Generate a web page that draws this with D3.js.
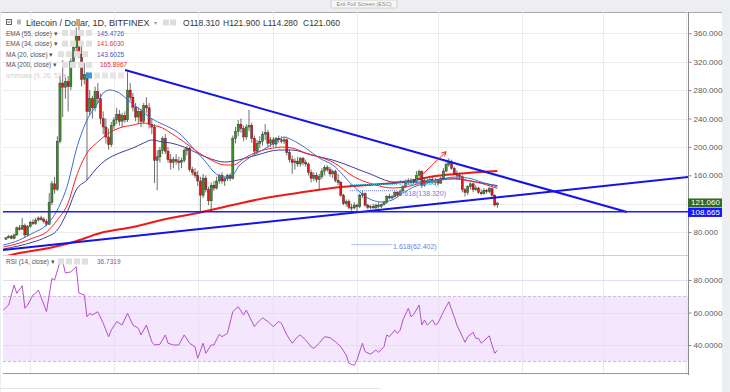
<!DOCTYPE html>
<html><head><meta charset="utf-8">
<script src="https://cdn.jsdelivr.net/npm/d3@7"></script>
<style>
html,body{margin:0;padding:0;background:#eceef2;}
svg{display:block;font-family:"Liberation Sans",Arial,sans-serif;}
</style></head><body>
<svg id="c" width="730" height="392"></svg>
<script>
// ---------- DATA ----------
const startDate = "2017-11-22";           // first daily candle
const open = [
 70,72,74,71,76,86,84,89,76,
 88,94,92,97,100,98,95,91,122,148,140,208,290,284,292,285,320,340,356,330,295,302,250,268,255,278,268,240,228,214,203,
 230,238,246,236,244,238,280,270,256,242,250,236,258,255,232,228,181,186,195,212,194,182,178,182,180,178,181,195,198,168,164,
 160,152,132,156,140,124,146,142,152,160,152,155,160,156,212,222,232,226,214,228,230,212,194,205,208,218,220,205,
 210,204,212,210,208,210,192,182,178,180,176,184,178,176,164,156,160,154,158,166,171,168,162,165,153,150,132,120,123,115,114,
 118,116,132,134,118,115,116,114,118,116,119,122,130,128,130,136,132,138,144,152,150,153,150,160,165,146,153,150,154,150,
 152,149,155,166,175,179,170,163,160,158,140,136,144,148,140,142,136,134,139,137,141,132,118.31];
const high = [
 73,76,76,78,88,90,100,92,90,
 96,98,100,102,103,101,98,135,152,158,215,300,322,298,300,325,345,368,370,345,318,305,280,272,285,290,275,250,240,226,235,
 242,255,252,248,250,305,290,276,262,256,254,262,270,262,240,232,195,200,215,218,200,190,186,190,186,185,198,202,200,172,170,
 166,158,162,160,144,150,152,158,162,164,158,162,163,216,228,238,240,230,232,252,234,216,210,215,222,232,224,214,
 214,214,216,215,214,212,196,188,184,186,186,186,182,178,168,164,164,162,170,174,174,172,168,168,162,152,134,126,126,120,122,
 120,134,138,136,120,118,120,120,122,120,124,132,134,132,138,138,140,146,154,156,156,155,166,168,167,156,156,158,158,156,
 154,158,170,178,184,182,172,167,164,160,142,146,150,150,146,144,140,142,141,144,143,133,121.9];
const low = [
 69,71,70,70,75,82,83,72,74,
 86,90,90,95,96,92,88,90,118,134,138,205,242,268,250,280,312,330,325,285,288,153,245,240,250,262,232,218,205,196,200,
 225,232,230,228,234,235,265,250,236,232,228,232,248,226,218,149,139,178,190,190,178,168,170,175,167,170,178,188,165,160,156,
 145,109,128,136,118,109,138,140,148,148,145,152,152,154,205,215,220,208,210,222,206,188,190,198,202,210,200,200,
 200,200,206,205,204,188,178,162,168,172,172,174,172,160,150,152,150,139,155,160,165,158,156,150,146,130,118,116,112,108,112,
 108,114,128,116,112,112,113,112,113,114,117,120,126,126,129,130,131,136,142,146,146,148,148,156,142,144,148,148,148,146,
 146,148,154,164,172,168,160,156,154,136,130,132,140,136,138,134,132,133,134,135,130,116,114.28];
const close = [
 72,74,71,76,86,84,89,76,88,
 94,92,97,100,98,95,91,122,148,140,208,290,284,292,285,320,340,356,330,295,302,250,268,255,278,268,240,228,214,203,230,
 238,246,236,244,238,280,270,256,242,250,236,258,255,232,228,181,186,195,212,194,182,178,182,180,178,181,195,198,168,164,160,
 152,132,156,140,124,146,142,152,160,152,155,160,156,212,222,232,226,214,228,230,212,194,205,208,218,220,205,210,
 204,212,210,208,210,192,182,178,180,176,184,178,176,164,156,160,154,158,166,171,168,162,165,153,150,132,120,123,115,114,118,
 116,132,134,118,115,116,114,118,116,119,122,130,128,130,136,132,138,144,152,150,153,150,160,165,146,153,150,154,150,152,
 149,155,166,175,179,170,163,160,158,140,136,144,148,140,142,136,134,139,137,141,132,118.31,121.06];

// indicator lines: [days from 2018-01-01, value]
const ma20 = [[-41,61.8],[-35,68.9],[-30,78.7],[-25,90],[-21,111.1],[-17,149.2],[-14,195.6],[-10,237.9],[-6,261.8],[-4,275.9],[-1.5,280.1],[2,275.9],[6,263.2],[10,252],[13,242.1],[17,233.7],[21,226.6],[24,219.6],[29,199.8],[34,178.7],[37,164.6],[41,157.6],[44,160.4],[46,171.7],[50,184.4],[53,191.4],[57,199.8],[61,209.7],[63,213.9],[66,209.7],[71,198.4],[76,184.4],[81,174.5],[89,143.5],[94,128],[99,122.4],[103,125.2],[107,135.1],[111,143.5],[116,149.2],[121,153.4],[126,157.6],[131,156.2],[136,150.5],[142,143.6]];
const ema34 = [[-41,59],[-35,64.6],[-30,71.7],[-25,80.1],[-21,97],[-17,121],[-14,157.6],[-10,191.4],[-6,206.9],[-3,216.8],[2,226.6],[7,230.8],[11,233.7],[14,230.8],[18,226.6],[21,219.6],[26,206.9],[31,192.8],[36,181.5],[41,174.5],[44,174.5],[49,185.8],[53,192.8],[59,198.4],[62,199.8],[66,198.4],[71,191.4],[76,185.8],[81,178.7],[89,157.6],[97,146.3],[103,142.1],[108,143.5],[114,149.2],[121,153.4],[126,154.8],[134,150.5],[142,141.6]];
const ema55 = [[-41,56.2],[-30,66],[-25,73.1],[-21,82.9],[-17,111.1],[-14,139.3],[-10,153.4],[-6,171.7],[-3,181.5],[2,191.4],[7,198.4],[11,205.5],[14,209.7],[18,206.9],[21,205.5],[26,199.8],[34,185.8],[41,178.7],[46,181.5],[53,188.6],[61,195.6],[66,195.6],[73,188.6],[81,181.5],[94,163.2],[104,150.5],[114,150.5],[124,156.2],[134,150.5],[142,145.5]];
const ma200 = [[-41,45],[-35,50.5],[-24,57.6],[-15,66],[-5,78.7],[7,87.2],[21,99.9],[31,106.9],[44,118.2],[56,128],[68,135.1],[84,143.5],[94,146.3],[107,150.5],[119,159],[131,163.2],[142,165.9]];
const rsi = [[-41,61.5],[-39,64.6],[-37,76.9],[-36,71.8],[-34,76.5],[-33,62.6],[-32,64.6],[-30,70.8],[-29,71.8],[-28,73.8],[-25,60.5],[-23,81],[-22,80],[-20,91.3],[-19,91.3],[-18,84.3],[-16,85],[-14,88.2],[-13,72],[-11,70.8],[-10,57.4],[-9,59.5],[-8,58.5],[-6,60.5],[-4,53.4],[-2,45.1],[-1,49.2],[1,54.4],[3,52.3],[5,59.5],[7,52.3],[9,50.3],[10,46.2],[12,52.3],[14,42],[15,40],[17,40.4],[19,46.2],[20,41.1],[22,40],[24,40],[26,46.2],[28,41.1],[30,38.9],[31,31.8],[33,41.1],[34,34.9],[36,40],[37,40],[39,46.6],[40,45.1],[42,47.2],[44,60.5],[46,63.6],[48,58.5],[49,61.5],[52,51.3],[53,53.4],[55,56.8],[57,54.4],[59,51.3],[61,54.4],[62,53.4],[64,46.2],[66,41.1],[68,45.1],[69,46.2],[71,43.1],[73,38.9],[74,37.9],[76,41.1],[78,45.1],[80,44.5],[82,42],[84,38.9],[86,33.8],[87,28.7],[89,27.5],[90,30.8],[92,41.1],[93,35.9],[95,34.3],[97,36.9],[98,35.5],[100,38.9],[101,46.2],[102,45.1],[104,49.2],[105,47.2],[106,49.2],[107,55.4],[109,62.6],[110,57.4],[111,58.9],[113,64.6],[114,52.3],[115,55.4],[116,52.3],[118,55.4],[119,52.3],[120,53.4],[122,60.5],[124,66.6],[126,57.4],[127,52.3],[130,41.7],[131,45.1],[133,47.8],[134,44.1],[135,44.1],[136,41.1],[137,42.5],[139,45.7],[140,40],[141,34.9],[142,36.7319]];

// drawings: [days from 2018-01-01, price]
const upperTrend = [[4.1,308.3],[190,108.3]];
const lowerTrend = [[-41.1,54.8],[212.6,157.6]];
const supportLevel = 108.665;
const arrowPts = [[113.3,158],[123,193.2]];
const fibLevels = [{label:"0.5(147.230)", value:147.23, from:87.4, to:105, color:"#27c4e0"},
                   {label:"1.618(138.320)", value:138.32, from:87.4, to:105, color:"#6b7fe0"},
                   {label:"1.618(62.402)", value:62.402, from:88, to:103, color:"#6b7fe0"}];

const priceTicks = [80,160,200,240,280,320,360];
const rsiTicks = [40,60,80];
const monthTicks = ["2017-12-01","2018-01-01","2018-02-01","2018-03-01","2018-04-01","2018-05-01","2018-06-01","2018-07-01","2018-08-01"];
const monthLabels = ["Dec","2018","Feb","Mar","Apr","May","Jun","Jul","Aug"];
const legendRows = [
 {name:"EMA (55, close)", value:"145.4726", color:"#4d5fb8"},
 {name:"EMA (34, close)", value:"141.6030", color:"#e8352f"},
 {name:"MA (20, close)",  value:"143.6025", color:"#3f55b5"},
 {name:"MA (200, close)", value:"165.8967", color:"#f0262c"}];
const ohlcHeader = [["O","118.310"],["H","121.900"],["L","114.280"],["C","121.060"]];

// ---------- LAYOUT ----------
const L=3, R=688, PT=12, PB=255, RT=256, RB=373;
const DAY=864e5, JAN1=Date.UTC(2018,0,1);
const toDate = o => new Date(JAN1 + o*DAY);
const parse = d3.utcParse("%Y-%m-%d");
const t0 = parse(startDate);
const n = Math.min(open.length, high.length, low.length, close.length);
const candles = d3.range(n).map(i=>({date:new Date(t0.getTime()+i*DAY), o:open[i], h:high[i], l:low[i], c:close[i]}));

const x = d3.scaleUtc().domain([toDate(-41.11), toDate(212.59)]).range([L,R]);
const y = d3.scaleLinear().domain([47.75,390]).range([PB,PT]);
const yr = d3.scaleLinear().domain([22.77,94.77]).range([RB,RT]);

const svg = d3.select("#c");
const defs = svg.append("defs");
defs.append("clipPath").attr("id","cp").append("rect").attr("x",L).attr("y",PT).attr("width",R-L).attr("height",PB-PT);
defs.append("clipPath").attr("id","cr").append("rect").attr("x",L).attr("y",RT).attr("width",R-L).attr("height",RB-RT);
defs.append("clipPath").attr("id","cd").append("rect").attr("x",0).attr("y",RB).attr("width",R+1).attr("height",20);

// backgrounds
svg.append("rect").attr("width",730).attr("height",392).attr("fill","#eceef2");
svg.append("rect").attr("x",1).attr("y",PT).attr("width",721).attr("height",392-PT).attr("fill","#ffffff");
svg.append("line").attr("x1",1).attr("x2",722).attr("y1",PT+0.5).attr("y2",PT+0.5).attr("stroke","#a9a9a9");
svg.append("line").attr("x1",0).attr("x2",380).attr("y1",388.5).attr("y2",388.5).attr("stroke","#e4e4e4");
// exit full screen
svg.append("rect").attr("x",331).attr("y",0).attr("width",66).attr("height",8).attr("fill","#f7f7f7").attr("stroke","#d2d2d2");
svg.append("text").attr("x",364).attr("y",6).attr("text-anchor","middle").attr("font-size",5.5).attr("fill","#8a8a8a").text("Exit Full Screen (ESC)");

// grids
const grid = svg.append("g").attr("stroke","#ececec").attr("stroke-width",1);
grid.selectAll(".v").data(monthTicks).join("line")
  .attr("x1",d=>Math.round(x(parse(d)))+0.5).attr("x2",d=>Math.round(x(parse(d)))+0.5)
  .attr("y1",PT).attr("y2",RB)
  .style("display",d=>x(parse(d))<R-1?null:"none");
grid.selectAll(".h").data([80,120,160,200,240,280,320,360]).join("line")
  .attr("x1",L).attr("x2",R).attr("y1",d=>Math.round(y(d))+0.5).attr("y2",d=>Math.round(y(d))+0.5);

// RSI band
svg.append("rect").attr("x",L).attr("width",R-L).attr("y",yr(70)).attr("height",yr(30)-yr(70)).attr("fill","#f3e6fd");
const rg = svg.append("g");
rg.selectAll("line").data(rsiTicks).join("line").attr("x1",L).attr("x2",R)
  .attr("y1",d=>Math.round(yr(d))+0.5).attr("y2",d=>Math.round(yr(d))+0.5).attr("stroke","#e6dcef");
svg.selectAll(".bd").data([70,30]).join("line").attr("x1",L).attr("x2",R)
  .attr("y1",d=>Math.round(yr(d))+0.5).attr("y2",d=>Math.round(yr(d))+0.5)
  .attr("stroke","#cdbfd8").attr("stroke-dasharray","3,2");
svg.append("g").selectAll("line").data(monthTicks).join("line")
  .attr("x1",d=>Math.round(x(parse(d)))+0.5).attr("x2",d=>Math.round(x(parse(d)))+0.5)
  .attr("y1",yr(70)).attr("y2",yr(30)).attr("stroke","#ebe0f3")
  .style("display",d=>x(parse(d))<R-1?null:"none");

// pane separator
svg.append("line").attr("x1",L).attr("x2",R).attr("y1",PB+0.5).attr("y2",PB+0.5).attr("stroke","#d0d0d0");

// ---------- PRICE PANE ----------
const pp = svg.append("g").attr("clip-path","url(#cp)");
const line = d3.line().x(d=>x(toDate(d[0]))).y(d=>y(d[1])).curve(d3.curveMonotoneX);

pp.append("path").attr("d",line(ma200)).attr("fill","none").attr("stroke","#f01818").attr("stroke-width",2);

// candles
const cw = 2.2;
const cg = pp.append("g");
cg.selectAll(".w").data(candles).join("line")
  .attr("x1",d=>x(d.date)).attr("x2",d=>x(d.date)).attr("y1",d=>y(d.h)).attr("y2",d=>y(d.l))
  .attr("stroke","#4a4a4a").attr("stroke-width",0.8);
cg.selectAll(".b").data(candles).join("rect")
  .attr("x",d=>x(d.date)-cw/2).attr("width",cw)
  .attr("y",d=>y(Math.max(d.o,d.c))).attr("height",d=>Math.max(1,Math.abs(y(d.o)-y(d.c))))
  .attr("fill",d=>d.c>=d.o?"#3b8f2a":"#e3161c").attr("stroke","#2b2b2b").attr("stroke-width",0.4);

pp.append("path").attr("d",line(ema55)).attr("fill","none").attr("stroke","#3d3f9a").attr("stroke-width",1);
pp.append("path").attr("d",line(ema34)).attr("fill","none").attr("stroke","#ff1f1f").attr("stroke-width",1);
pp.append("path").attr("d",line(ma20)).attr("fill","none").attr("stroke","#3a6fd0").attr("stroke-width",1);

// trendlines
const straight = d3.line().x(d=>x(toDate(d[0]))).y(d=>y(d[1]));
pp.append("path").attr("d",straight(upperTrend)).attr("stroke","#1414e6").attr("stroke-width",2).attr("fill","none");
pp.append("path").attr("d",straight(lowerTrend)).attr("stroke","#1414e6").attr("stroke-width",2).attr("fill","none");
pp.append("line").attr("x1",L).attr("x2",R).attr("y1",y(supportLevel)).attr("y2",y(supportLevel))
  .attr("stroke","#1a1aff").attr("stroke-width",1.5);

// fib levels and labels
const fibDy = [0.5, 5.5, 4];
fibLevels.forEach((f,i)=>{
  pp.append("line").attr("x1",x(toDate(f.from))).attr("x2",x(toDate(f.to)))
    .attr("y1",y(f.value)).attr("y2",y(f.value)).attr("stroke",f.color).attr("stroke-dasharray","1,1").attr("stroke-width",1);
  pp.append("text").attr("x",x(toDate(f.to))+1).attr("y",y(f.value)+fibDy[i]).attr("font-size",7)
    .attr("fill",f.color).text(f.label);
});

// red arrow
const a0=[x(toDate(arrowPts[0][0])),y(arrowPts[0][1])], a1=[x(toDate(arrowPts[1][0])),y(arrowPts[1][1])];
pp.append("line").attr("x1",a0[0]).attr("y1",a0[1]).attr("x2",a1[0]).attr("y2",a1[1]).attr("stroke","#ff2020").attr("stroke-width",1);
{
  const ang=Math.atan2(a1[1]-a0[1],a1[0]-a0[0]), hl=5;
  [-0.5,0.5].forEach(s=>{
    pp.append("line").attr("x1",a1[0]).attr("y1",a1[1])
      .attr("x2",a1[0]-hl*Math.cos(ang+s)).attr("y2",a1[1]-hl*Math.sin(ang+s))
      .attr("stroke","#ff2020").attr("stroke-width",1);
  });
}

// ---------- RSI PANE ----------
const rp = svg.append("g").attr("clip-path","url(#cr)");
rp.append("path").attr("d",d3.line().x(d=>x(toDate(d[0]))).y(d=>yr(d[1]))(rsi))
  .attr("fill","none").attr("stroke","#b452c8").attr("stroke-width",1);

// ---------- AXES ----------
svg.append("line").attr("x1",R+0.5).attr("x2",R+0.5).attr("y1",PT).attr("y2",RB+2).attr("stroke","#8c8c8c");
svg.append("line").attr("x1",L).attr("x2",R).attr("y1",RB+0.5).attr("y2",RB+0.5).attr("stroke","#9a9a9a");

const ay = svg.append("g").attr("transform",`translate(${R+0.5},0)`)
  .call(d3.axisRight(y).tickValues(priceTicks).tickSize(3).tickPadding(2).tickFormat(d3.format(".3f")));
const ar = svg.append("g").attr("transform",`translate(${R+0.5},0)`)
  .call(d3.axisRight(yr).tickValues(rsiTicks).tickSize(3).tickPadding(2).tickFormat(d3.format(".4f")));
[ay,ar].forEach(g=>{
  g.select(".domain").remove();
  g.selectAll("line").attr("stroke","#8c8c8c");
  g.selectAll("text").attr("font-size",8).attr("fill","#5a5a5a").attr("font-family","Liberation Sans, Arial, sans-serif");
});

const ax = svg.append("g").attr("transform",`translate(0,${RB+0.5})`).attr("clip-path","url(#cd)")
  .call(d3.axisBottom(x).tickValues(monthTicks.map(parse)).tickSize(2).tickPadding(4)
    .tickFormat((d,i)=>monthLabels[i]));
ax.select(".domain").remove();
ax.selectAll("line").attr("stroke","#9a9a9a");
ax.selectAll("text").attr("font-size",7).attr("fill","#555").attr("font-family","Liberation Sans, Arial, sans-serif")
  .attr("font-weight",(d,i)=>monthLabels[i]==="2018"?"bold":null);

// right value boxes
const lastClose = close[n-1];
const b1y = y(lastClose)-4.5;
const b2y = Math.max(y(supportLevel)-4.5, b1y+9.5);
svg.append("rect").attr("x",R).attr("y",b1y).attr("width",34).attr("height",9).attr("fill","#336b1f");
svg.append("text").attr("x",R+3).attr("y",b1y+7).attr("font-size",8).attr("fill","#fff").text(d3.format(".3f")(lastClose));
svg.append("rect").attr("x",R).attr("y",b2y).attr("width",34).attr("height",9).attr("fill","#1717ff");
svg.append("text").attr("x",R+3).attr("y",b2y+7).attr("font-size",8).attr("fill","#fff").text(d3.format(".3f")(supportLevel));

// ---------- LEGENDS ----------
const lg = svg.append("g");
lg.append("rect").attr("x",6.5).attr("y",19.5).attr("width",5).attr("height",5).attr("fill","none").attr("stroke","#666");
lg.append("line").attr("x1",7.5).attr("x2",10.5).attr("y1",22).attr("y2",22).attr("stroke","#666");
lg.append("rect").attr("x",17).attr("y",19.5).attr("width",4).attr("height",5).attr("fill","#bbb");
lg.append("text").attr("x",26).attr("y",25.5).attr("font-size",9).attr("fill","#333").text("Litecoin / Dollar, 1D, BITFINEX");
lg.append("text").attr("x",154).attr("y",25).attr("font-size",6).attr("fill","#999").text("▾");
[163,170].forEach(xx=>lg.append("rect").attr("x",xx).attr("y",19.5).attr("width",6).attr("height",6).attr("fill","#dcdcdc"));
ohlcHeader.forEach((h,i)=>{
  const t = lg.append("text").attr("x",183+i*40).attr("y",25.5).attr("font-size",8.5).attr("fill","#333");
  t.append("tspan").text(h[0]); t.append("tspan").text(h[1]);
});
legendRows.forEach((r,i)=>{
  const yy = 35.5 + i*10.6;
  lg.append("text").attr("x",6).attr("y",yy).attr("font-size",6.5).attr("fill","#555").text(r.name+" ▾");
  const ix = i===2?58:62;
  [0,1,2,3].forEach(k=>lg.append("rect").attr("x",ix+k*8).attr("y",yy-5.5).attr("width",6).attr("height",6).attr("fill","#e0e0e0"));
  lg.append("text").attr("x",i===3?100:97).attr("y",yy).attr("font-size",6.5).attr("fill",r.color).text(r.value);
});
lg.append("text").attr("x",6).attr("y",78).attr("font-size",6.5).attr("fill","#d0d0d0").text("Ichimoku (9, 26, 52 ▾");
lg.append("rect").attr("x",86).attr("y",72.5).attr("width",6).attr("height",6).attr("fill","#2e9be6");
[94,102,110,118].forEach(xx=>lg.append("rect").attr("x",xx).attr("y",72.5).attr("width",6).attr("height",6).attr("fill","#e6e6e6"));

lg.append("text").attr("x",6).attr("y",264).attr("font-size",6.5).attr("fill","#555").text("RSI (14, close) ▾");
[58,66,74,82].forEach(xx=>lg.append("rect").attr("x",xx).attr("y",258.5).attr("width",6).attr("height",6).attr("fill","#dedede"));
lg.append("text").attr("x",97).attr("y",264).attr("font-size",6.5).attr("fill","#9c3fb8").text(d3.format(".4f")(rsi[rsi.length-1][1]));
</script>
</body></html>
